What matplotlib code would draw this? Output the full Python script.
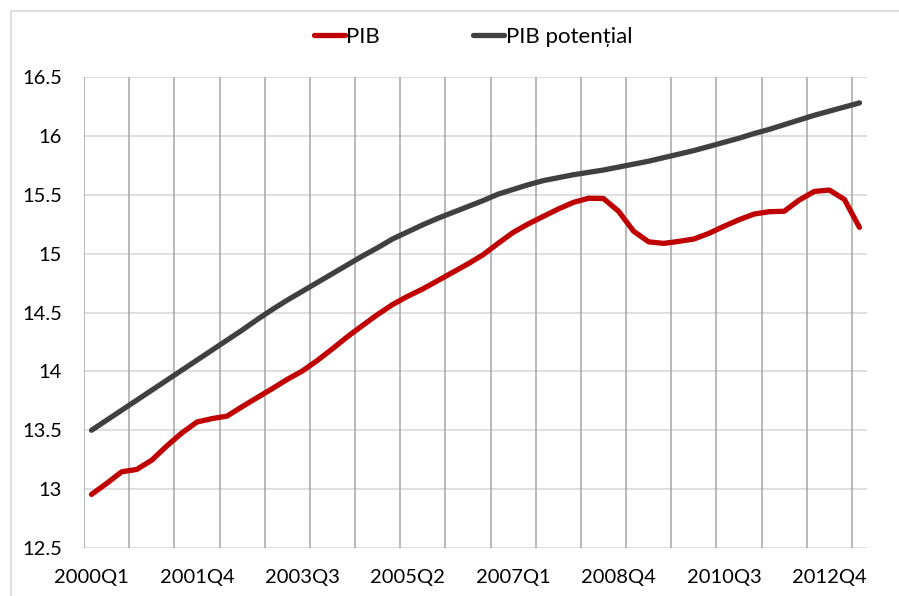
import matplotlib
matplotlib.use("Agg")
import matplotlib.pyplot as plt
from matplotlib.patches import Rectangle
import numpy as np

# ---- data ----
tick_labels = ["2000Q1", "2001Q4", "2003Q3", "2005Q2", "2007Q1", "2008Q4", "2010Q3", "2012Q4"]
tick_step = 7

pib = [12.955, 13.048, 13.147, 13.167, 13.246, 13.367, 13.477, 13.570, 13.599, 13.620,
       13.700, 13.777, 13.853, 13.932, 14.003, 14.093, 14.192, 14.295, 14.390, 14.483,
       14.568, 14.638, 14.700, 14.771, 14.842, 14.913, 14.990, 15.087, 15.180, 15.252,
       15.316, 15.379, 15.435, 15.470, 15.468, 15.360, 15.190, 15.100, 15.087, 15.104,
       15.124, 15.172, 15.232, 15.288, 15.336, 15.356, 15.360, 15.455, 15.528, 15.540,
       15.460, 15.223]

pib_potential = [13.500, 13.585, 13.670, 13.755, 13.840, 13.925, 14.010, 14.095, 14.180, 14.265,
                 14.350, 14.440, 14.525, 14.605, 14.680, 14.755, 14.830, 14.905, 14.980, 15.050,
                 15.125, 15.185, 15.245, 15.300, 15.350, 15.400, 15.450, 15.505, 15.545, 15.585,
                 15.620, 15.645, 15.670, 15.690, 15.710, 15.735, 15.760, 15.785, 15.815, 15.845,
                 15.875, 15.910, 15.945, 15.980, 16.020, 16.055, 16.095, 16.135, 16.175, 16.210,
                 16.245, 16.280]

series_names = ["PIB", "PIB potențial"]

plt.rcParams['font.family'] = ['Lato', 'DejaVu Sans']

W, H = 899, 596
fig = plt.figure(figsize=(W / 100, H / 100), dpi=100)
ax = fig.add_axes([84 / W, 1 - 548 / H, (867 - 84) / W, (548 - 77) / H])

n = len(pib)
x = np.arange(n)

# outer chart border
fig.patches.append(Rectangle((11 / W, -0.1), 1.2, 1 - 11 / H + 0.1, transform=fig.transFigure,
                             fill=False, edgecolor="#d9d9d9", linewidth=1.2, zorder=0))

ax.set_xlim(-0.5, n - 0.5)
ax.set_ylim(12.5, 16.5)

# horizontal gridlines
yt = np.arange(12.5, 16.51, 0.5)
for v in yt:
    ax.axhline(v, color="#d9d9d9", linewidth=1.2, zorder=1)
# vertical gridlines every 3 categories
for b in np.arange(-0.5, n - 0.5, 3):
    ax.axvline(b, color="#a6a6a6", linewidth=1.1, zorder=1)

ax.plot(x, pib, color="#C00000", linewidth=3.8, solid_capstyle="round",
        solid_joinstyle="round", label=series_names[0], zorder=3)
ax.plot(x, pib_potential, color="#404040", linewidth=3.8, solid_capstyle="round",
        solid_joinstyle="round", label=series_names[1], zorder=3)

ax.set_yticks(yt)
ax.set_yticklabels([f"{v:g}" for v in yt])
ax.set_xticks(np.arange(0, n, tick_step)[:len(tick_labels)])
ax.set_xticklabels(tick_labels)
ax.tick_params(axis="both", length=0, labelsize=14.5, colors="#000000")
ax.tick_params(axis="y", pad=16)
ax.tick_params(axis="x", pad=15)
for s in ax.spines.values():
    s.set_visible(False)

leg = fig.legend(loc="center", bbox_to_anchor=(473 / W, 1 - 37 / H), ncol=2, frameon=False,
                 fontsize=16, handlelength=1.4, handletextpad=0.05, columnspacing=4.2)

fig.savefig("out.png", dpi=100)
